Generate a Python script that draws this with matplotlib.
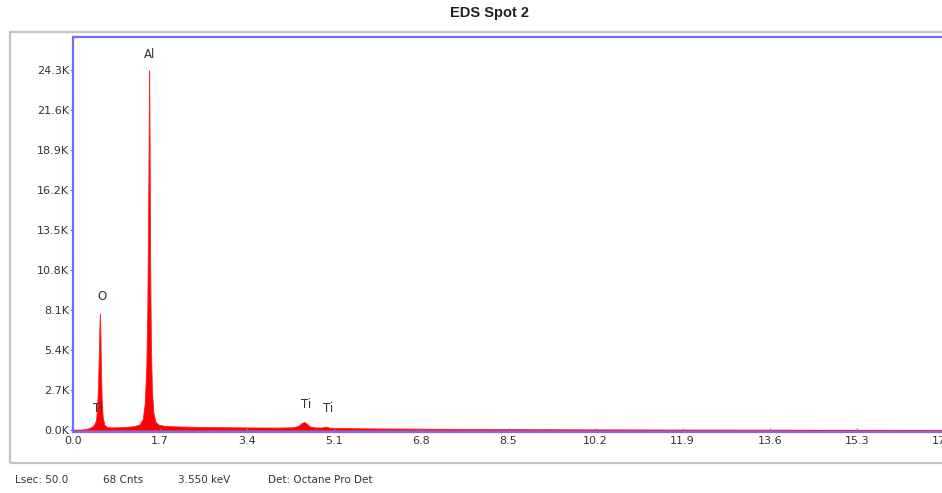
import matplotlib
matplotlib.use("Agg")
import matplotlib.pyplot as plt
from matplotlib.patches import Rectangle

# Spectrum trace (energy in keV, counts)
energy_kev = [0.00, 0.10, 0.20, 0.30, 0.38, 0.42, 0.45, 0.47, 0.49, 0.505, 0.515, 0.525,
              0.535, 0.545, 0.56, 0.58, 0.61, 0.66, 0.75, 0.90, 1.05, 1.20, 1.30, 1.36,
              1.40, 1.43, 1.45, 1.465, 1.478, 1.486, 1.495, 1.505, 1.52, 1.54, 1.57,
              1.61, 1.67, 1.80, 2.00, 2.40, 2.80, 3.20, 3.60, 4.00, 4.30, 4.40, 4.46,
              4.51, 4.56, 4.62, 4.72, 4.85, 4.93, 5.01, 5.20, 5.60, 6.20, 7.00, 8.00,
              9.00, 10.00, 11.50, 13.00, 14.50, 16.00, 17.00]
counts = [30, 40, 60, 120, 260, 420, 700, 1500, 3200, 5200, 6900, 7900,
          6600, 4300, 2100, 900, 380, 220, 190, 200, 230, 280, 400, 750,
          1800, 4200, 8000, 14000, 20500, 24300, 19500, 11500, 6000, 2700, 1150,
          560, 370, 290, 260, 230, 210, 195, 185, 180, 200, 300, 470,
          560, 450, 260, 190, 180, 240, 170, 150, 130, 115, 100, 85,
          70, 60, 50, 40, 35, 30, 25]

# Peak labels: (text, energy keV, counts position)
peak_labels = ["Al", "O", "Ti", "Ti", "Ti"]
label_kev = [1.50, 0.56, 0.49, 4.55, 4.97]
label_counts = [24900, 8600, 1000, 1300, 1050]

x_ticks = [0.0, 1.7, 3.4, 5.1, 6.8, 8.5, 10.2, 11.9, 13.6, 15.3, 17.0]
y_ticks = [0, 2700, 5400, 8100, 10800, 13500, 16200, 18900, 21600, 24300]
y_tick_labels = ["0.0K", "2.7K", "5.4K", "8.1K", "10.8K", "13.5K", "16.2K",
                 "18.9K", "21.6K", "24.3K"]

title = "EDS Spot 2"
status_items = ["Lsec: 50.0", "68 Cnts", "3.550 keV", "Det: Octane Pro Det"]
status_x = [15, 103, 178, 268]

W, H = 942, 493
fig = plt.figure(figsize=(W / 100, H / 100), dpi=100)
fig.patch.set_facecolor("white")

# outer grey panel frame
fig.patches.append(Rectangle((10 / W, 1 - 463 / H), 1.0, (463 - 32) / H,
                             transform=fig.transFigure, fill=False,
                             edgecolor="#c4c4c4", linewidth=1.6, zorder=0))

ax = fig.add_axes([73 / W, 1 - 432 / H, 871 / W, (432 - 37) / H])
ax.fill_between(energy_kev, counts, 0, color="#ff0000", linewidth=0.6,
                edgecolor="#ff2020")
ax.set_xlim(0, 17.0)
ax.set_ylim(-120, 26550)

blue = "#6e6eff"
for s in ax.spines.values():
    s.set_color(blue)
    s.set_linewidth(1.6)

ax.set_xticks(x_ticks)
ax.set_xticklabels([f"{v:.1f}" for v in x_ticks])
ax.set_yticks(y_ticks)
ax.set_yticklabels(y_tick_labels)
ax.tick_params(axis="both", colors=blue, labelcolor="#333333", labelsize=8,
               length=3, width=0.8, direction="in", pad=3)
ax.tick_params(axis="y", direction="out", length=2, pad=1)

for txt, xk, yc in zip(peak_labels, label_kev, label_counts):
    ax.text(xk, yc, txt, ha="center", va="bottom", fontsize=8.5, color="#333333")

fig.text(490 / W, 1 - 13 / H, title, ha="center", va="center", fontsize=10.5,
         fontweight="bold", family="Liberation Sans", color="#222222")

for txt, px in zip(status_items, status_x):
    fig.text(px / W, 1 - 480 / H, txt, ha="left", va="center", fontsize=7.5,
             color="#333333")

fig.savefig("out.png", dpi=100)
